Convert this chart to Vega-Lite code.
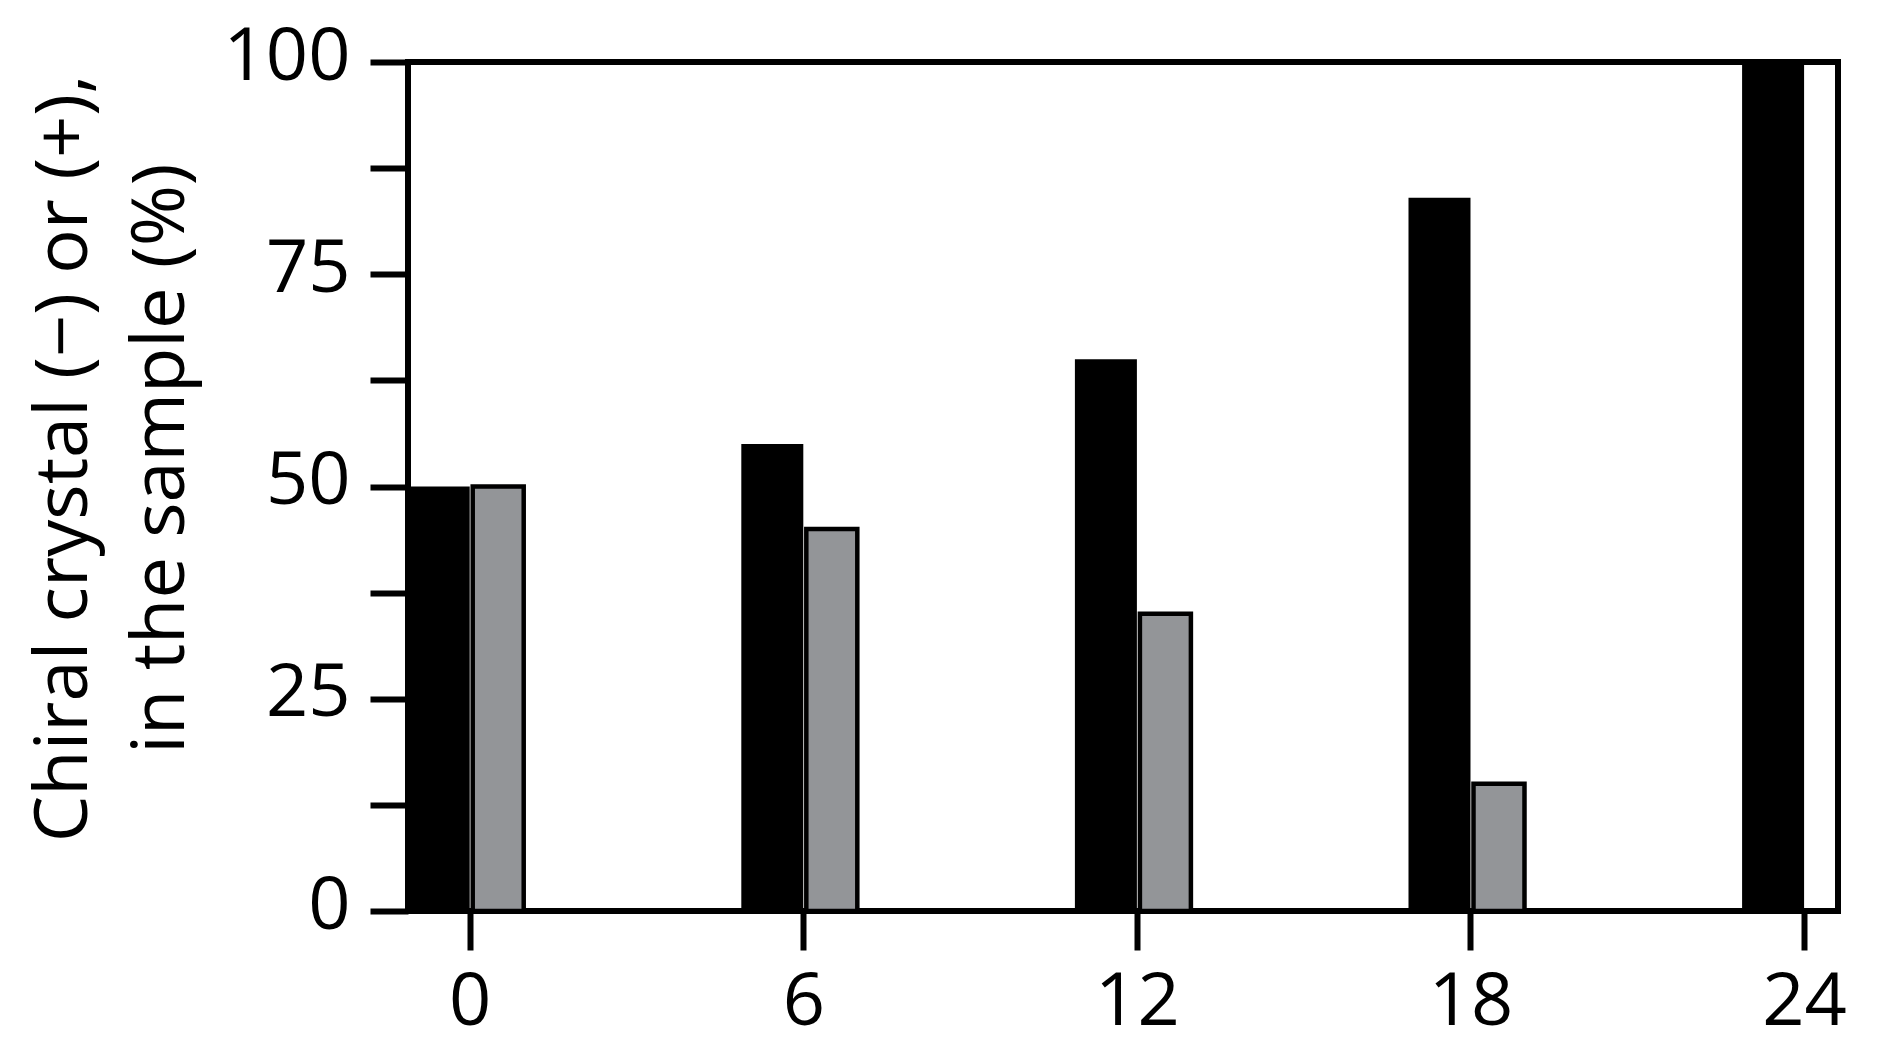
{
  "$schema": "https://vega.github.io/schema/vega-lite/v6.json",
  "autosize": {"type": "none"},
  "padding": {"left": 408, "top": 62, "right": 49, "bottom": 141},
  "width": 1430,
  "height": 849,
  "background": "white",
  "config": {
    "view": {"stroke": "black", "strokeWidth": 6},
    "font": "Open Sans"
  },
  "data": {
    "values": [
      {"time": 0, "series": "(−)", "value": 50},
      {"time": 0, "series": "(+)", "value": 50},
      {"time": 6, "series": "(−)", "value": 55},
      {"time": 6, "series": "(+)", "value": 45},
      {"time": 12, "series": "(−)", "value": 65},
      {"time": 12, "series": "(+)", "value": 35},
      {"time": 18, "series": "(−)", "value": 84},
      {"time": 18, "series": "(+)", "value": 15},
      {"time": 24, "series": "(−)", "value": 100}
    ]
  },
  "encoding": {
    "x": {
      "field": "time",
      "type": "quantitative",
      "scale": {"domain": [-1.02, 24.52], "nice": false, "zero": false},
      "axis": {
        "values": [0, 6, 12, 18, 24],
        "title": null,
        "grid": false,
        "domain": false,
        "tickColor": "black",
        "tickWidth": 6,
        "tickSize": 39,
        "labelFontSize": 74,
        "labelColor": "black",
        "labelPadding": 16,
        "labelFont": "Open Sans"
      }
    },
    "y": {
      "field": "value",
      "type": "quantitative",
      "scale": {"domain": [0, 100], "nice": false},
      "axis": {
        "values": [0, 12.5, 25, 37.5, 50, 62.5, 75, 87.5, 100],
        "labelExpr": "datum.value % 25 == 0 ? datum.label : ''",
        "title": ["Chiral crystal (−) or (+),", "in the sample (%)"],
        "titleFontSize": 74,
        "titleFont": "Open Sans",
        "titleFontWeight": "normal",
        "titleColor": "black",
        "titleLineHeight": 97,
        "titleBaseline": "alphabetic",
        "titleX": -322,
        "titleY": 396,
        "grid": false,
        "domain": false,
        "tickColor": "black",
        "tickWidth": 6,
        "tickSize": 38,
        "labelFontSize": 74,
        "labelColor": "black",
        "labelPadding": 20,
        "labelOffset": -5,
        "labelFont": "Open Sans"
      }
    },
    "y2": {"datum": 0}
  },
  "layer": [
    {
      "transform": [{"filter": "datum.series == '(−)'"}],
      "mark": {"type": "bar", "width": 62, "xOffset": -31, "color": "black"}
    },
    {
      "transform": [{"filter": "datum.series == '(+)'"}],
      "mark": {"type": "bar", "width": 51, "xOffset": 28.5, "fill": "#939598", "stroke": "black", "strokeWidth": 4.5}
    }
  ]
}
